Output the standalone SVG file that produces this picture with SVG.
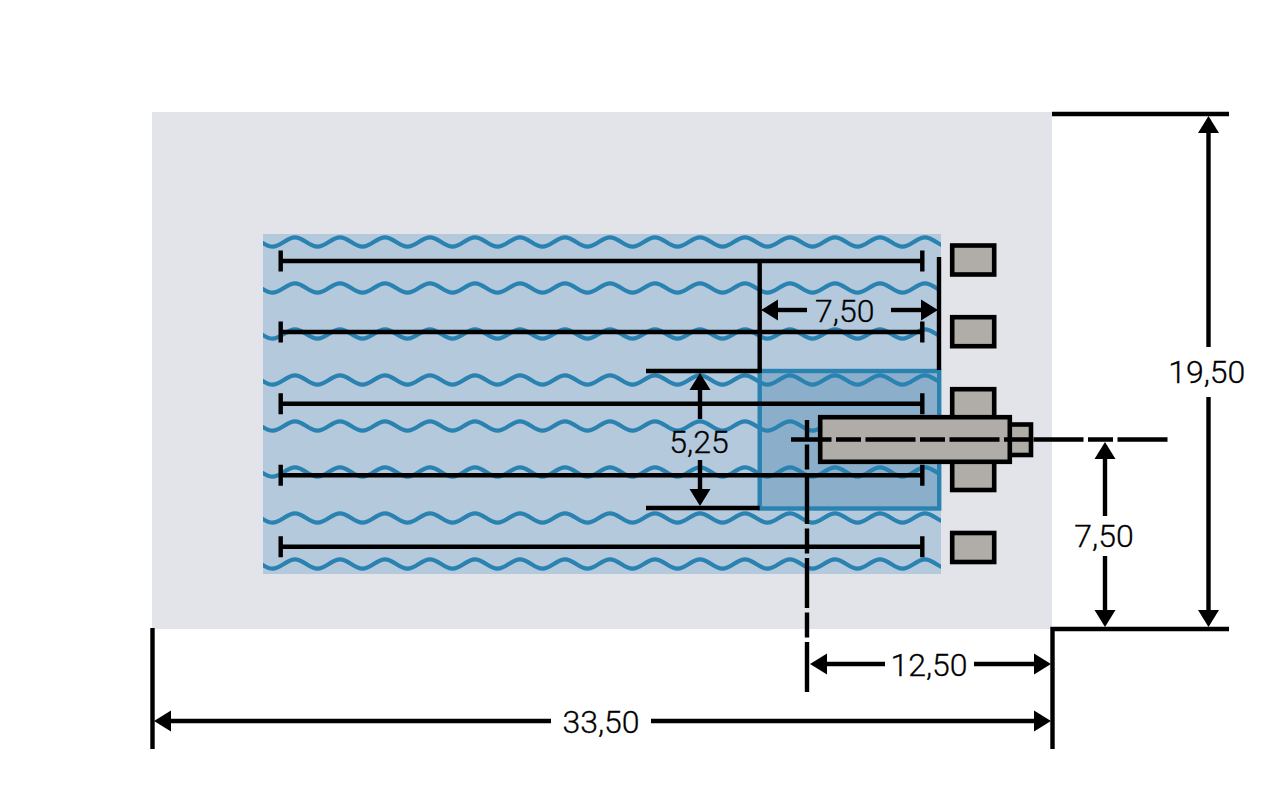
<svg xmlns="http://www.w3.org/2000/svg" xmlns:xlink="http://www.w3.org/1999/xlink" width="1273" height="810" viewBox="0 0 1273 810">
<style>
.wave{fill:none;stroke:#2a82b1;stroke-width:4.200}
.ln{fill:none;stroke:#000;stroke-width:4.400;stroke-linecap:butt}
.dim{fill:none;stroke:#000;stroke-width:4.400;marker-end:url(#ah)}
.ctr{fill:none;stroke:#000;stroke-width:4.400;stroke-dasharray:50 4.5 25 4.5}
.part{fill:#b0aca8;stroke:#000;stroke-width:4.600}
text{font-family:Roboto,"Liberation Sans",sans-serif;font-weight:300;font-size:32px;fill:#000;stroke:#000;stroke-width:0.300;text-anchor:middle}
</style>
<defs>
<marker id="ah" markerUnits="userSpaceOnUse" markerWidth="20" markerHeight="24" refX="0" refY="11" orient="auto" viewBox="0 0 20 22"><path d="M0,0.500L17,11L0,21.500Z" fill="#000"/></marker>
<clipPath id="wc"><rect x="263" y="230" width="678" height="344"/></clipPath>
<path id="w" class="wave" d="M250,-4.700c8,0 14.500,9.400 22.500,9.400s14.500,-9.400 22.500,-9.400s14.500,9.400 22.500,9.400s14.500,-9.400 22.500,-9.400s14.500,9.400 22.500,9.400s14.500,-9.400 22.500,-9.400s14.500,9.400 22.500,9.400s14.500,-9.400 22.500,-9.400s14.500,9.400 22.500,9.400s14.500,-9.400 22.500,-9.400s14.500,9.400 22.500,9.400s14.500,-9.400 22.500,-9.400s14.500,9.400 22.500,9.400s14.500,-9.400 22.500,-9.400s14.500,9.400 22.500,9.400s14.500,-9.400 22.500,-9.400s14.500,9.400 22.500,9.400s14.500,-9.400 22.500,-9.400s14.500,9.400 22.500,9.400s14.500,-9.400 22.500,-9.400s14.500,9.400 22.500,9.400s14.500,-9.400 22.500,-9.400s14.500,9.400 22.500,9.400s14.500,-9.400 22.500,-9.400s14.500,9.400 22.500,9.400s14.500,-9.400 22.500,-9.400s14.500,9.400 22.500,9.400s14.500,-9.400 22.500,-9.400s14.500,9.400 22.500,9.400s14.500,-9.400 22.500,-9.400s14.500,9.400 22.500,9.400s14.500,-9.400 22.500,-9.400"/>
</defs>
<g id="plate"><rect x="152" y="112" width="900" height="517" fill="#e3e4ea"/></g>
<g id="panel">
<rect x="263" y="234" width="678" height="340" fill="#b5c9dc"/>
<rect x="759.700" y="371" width="179.500" height="137.500" fill="#8bafcb"/>
</g>
<g id="waves" clip-path="url(#wc)">
<use xlink:href="#w" href="#w" y="242"/>
<use xlink:href="#w" href="#w" y="288"/>
<use xlink:href="#w" href="#w" y="334"/>
<use xlink:href="#w" href="#w" y="380"/>
<use xlink:href="#w" href="#w" y="426"/>
<use xlink:href="#w" href="#w" y="472"/>
<use xlink:href="#w" href="#w" y="518"/>
<use xlink:href="#w" href="#w" y="564"/>
</g>
<g id="highlight"><rect x="759.700" y="371" width="179.500" height="137.500" fill="none" stroke="#2a82b1" stroke-width="4.400"/></g>
<g id="rows">
<path class="ln" d="M280.700,261H922.300M280.700,250.500V271.500M922.300,250.500V271.500"/>
<path class="ln" d="M280.700,332H922.300M280.700,321.500V342.500M922.300,321.500V342.500"/>
<path class="ln" d="M280.700,403.700H922.300M280.700,393.200V414.200M922.300,393.200V414.200"/>
<path class="ln" d="M280.700,475.300H922.300M280.700,464.800V485.800M922.300,464.800V485.800"/>
<path class="ln" d="M280.700,546.700H922.300M280.700,536.200V557.200M922.300,536.200V557.200"/>
</g>
<g id="connectors">
<path class="ctr" d="M807,692V420"/>
<path class="ln" d="M759.700,261V373M646,371H759.700M646,508H759.700M939,257V370"/>
<path class="ln" d="M1229,114H1052M1229,629H1052.500V749M152.500,628V749"/>
<path class="dim" d="M807,310H778"/>
<path class="dim" d="M891,310H921"/>
<path class="dim" d="M700,419V390"/>
<path class="dim" d="M700,460V489"/>
<path class="dim" d="M1105,516V459"/>
<path class="dim" d="M1105,556V610"/>
<path class="dim" d="M1208.500,347V133"/>
<path class="dim" d="M1208.500,397V610"/>
<path class="dim" d="M885,664H827"/>
<path class="dim" d="M974,664H1034"/>
<path class="dim" d="M551,721H171"/>
<path class="dim" d="M651,721H1034"/>
</g>
<g id="washer-1"><rect class="part" x="952.200" y="245.500" width="42" height="29"/></g>
<g id="washer-2"><rect class="part" x="952.200" y="317.200" width="42" height="29"/></g>
<g id="washer-3"><rect class="part" x="952.200" y="389.200" width="42" height="32"/></g>
<g id="washer-4"><rect class="part" x="952.200" y="459" width="42" height="31"/></g>
<g id="washer-5"><rect class="part" x="952.200" y="533" width="42" height="29"/></g>
<g id="bolt-tip"><rect class="part" x="1008" y="424.500" width="23" height="30.500"/></g>
<g id="bolt"><rect class="part" x="820.200" y="417.200" width="189.600" height="44.600"/></g>
<g id="centerline"><path class="ctr" d="M1167.500,439.500H791"/></g>
<g id="labels">
<text x="844.700" y="321.700">7,50</text>
<text x="699" y="453.300">5,25</text>
<text x="1104" y="547.300">7,50</text>
<text x="1206.700" y="383">19,50</text>
<text x="929" y="675.600">12,50</text>
<text x="601" y="732.700">33,50</text>
</g>
</svg>
